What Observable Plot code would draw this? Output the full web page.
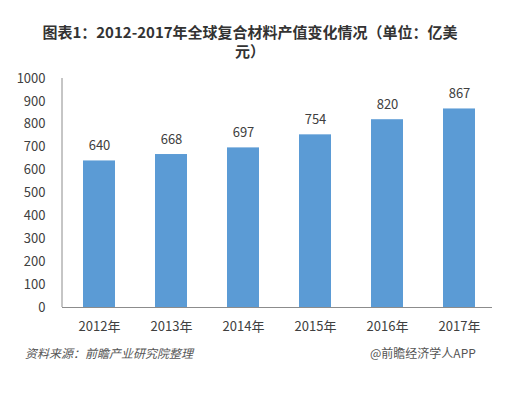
<!DOCTYPE html>
<html>
<head>
<meta charset="utf-8">
<script src="https://cdn.jsdelivr.net/npm/d3@7"></script>
<script src="https://cdn.jsdelivr.net/npm/@observablehq/plot@0.6"></script>
<style>
  body { margin: 0; background: #fff; width: 529px; height: 397px; overflow: hidden; font-family: "Noto Sans CJK SC", "Noto Sans", sans-serif; }
  #title { width: 500px; padding-top: 22px; font-size: 15px; font-weight: bold; line-height: 19px; text-align: center; color: #333; }
  #chart { margin-top: 2px; height: 278px; }
  #foot { position: relative; height: 26px; font-size: 12px; line-height: 26px; color: #555; }
  #src { position: absolute; left: 25px; font-style: italic; }
  #brand { position: absolute; left: 370px; }
</style>
</head>
<body>
<div id="title">图表1：2012-2017年全球复合材料产值变化情况（单位：亿美<br>元）</div>
<div id="chart"></div>
<div id="foot"><span id="src">资料来源：前瞻产业研究院整理</span><span id="brand">@前瞻经济学人APP</span></div>
<script>
const years = ["2012年", "2013年", "2014年", "2015年", "2016年", "2017年"];
const values = [640, 668, 697, 754, 820, 867];
const yTicks = [0, 100, 200, 300, 400, 500, 600, 700, 800, 900, 1000];

const data = years.map((year, i) => ({year, value: values[i]}));

// left axis line drawn from the plot's own scales/dimensions
function leftAxisLine(index, scales, values, dimensions) {
  const y = scales.y;
  const x0 = dimensions.marginLeft;
  const line = d3.create("svg:line")
    .attr("x1", x0).attr("x2", x0)
    .attr("y1", y(1000)).attr("y2", y(0))
    .attr("stroke", "#8c8c8c")
    .attr("stroke-width", 1);
  return line.node();
}

const chart = Plot.plot({
  width: 529,
  height: 278,
  marginTop: 16,
  marginBottom: 33,
  marginLeft: 62,
  marginRight: 32,
  style: {fontFamily: '"Noto Sans CJK SC", "Noto Sans", sans-serif', fontSize: "13px", color: "#404040", background: "#fff"},
  x: {domain: years, paddingInner: 0.55, paddingOuter: 0.275, label: null},
  y: {domain: [0, 1000], label: null},
  marks: [
    Plot.barY(data, {x: "year", y: "value", fill: "#5B9BD5"}),
    leftAxisLine,
    Plot.ruleY([0], {stroke: "#8c8c8c", insetRight: 5}),
    Plot.text(data, {x: "year", y: "value", text: d => String(d.value), dy: -15, fill: "#404040", fontSize: 13}),
    Plot.axisY({ticks: yTicks, tickFormat: d => String(d), tickSize: 0, tickPadding: 17, label: null, fontSize: 13}),
    Plot.axisX({tickSize: 0, tickPadding: 14, label: null, fontSize: 13})
  ]
});
document.getElementById("chart").appendChild(chart);
</script>
</body>
</html>
